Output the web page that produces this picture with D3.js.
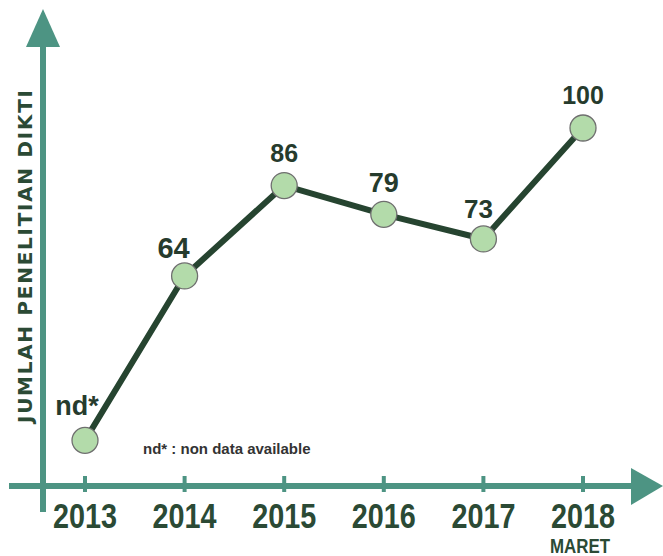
<!DOCTYPE html>
<html>
<head>
<meta charset="utf-8">
<script src="https://cdn.jsdelivr.net/npm/d3@7"></script>
<style>
  html, body { margin: 0; padding: 0; background: #fff; }
  svg { display: block; }
</style>
</head>
<body>
<figure id="line" style="margin:0"></figure>
<script>
// data
const years = ["2013", "2014", "2015", "2016", "2017", "2018"];
const yearNotes = ["", "", "", "", "", "MARET"];
// 2013 has no data (nd*), its marker sits low on the chart
const values = [24, 64, 86, 79, 73, 100];
const valueLabels = ["nd*", "64", "86", "79", "73", "100"];
const yTitle = "JUMLAH PENELITIAN DIKTI";
const footNote = "nd* : non data available";

// label nudges / sizes (style only)
const labelDx = [-8, -11, 0, 0, -5, 0];
const labelDy = [-25, -18, -24, -22, -21, -24];
const labelSize = [27, 29, 25, 27, 26, 25];

const width = 663;
const height = 556;
const axisColor = "#4d9483";
const lineColor = "#264430";
const textColor = "#263b2d";
const yearColor = "#2b4a35";
const narrow = "'Liberation Sans Narrow', 'Arial Narrow', 'Liberation Sans', sans-serif";

const svg = d3.select("figure#line")
  .append("svg")
  .attr("width", width)
  .attr("height", height);

svg.append("rect").attr("width", width).attr("height", height).attr("fill", "#fff");

// scales
const x = d3.scalePoint()
  .domain(years)
  .range([85, 583]);

const y = d3.scaleLinear()
  .domain([0, 100])
  .range([539, 128]);

const axisY = 486;
const axisX = 43;

// y axis with arrow
svg.append("line")
  .attr("x1", axisX).attr("x2", axisX)
  .attr("y1", 512).attr("y2", 44)
  .attr("stroke", axisColor).attr("stroke-width", 6);
svg.append("path")
  .attr("d", d3.line()([[axisX, 9], [axisX - 17, 47], [axisX + 17, 47]]) + "Z")
  .attr("fill", axisColor);

// x axis with arrow
svg.append("line")
  .attr("x1", 9).attr("x2", 633)
  .attr("y1", axisY).attr("y2", axisY)
  .attr("stroke", axisColor).attr("stroke-width", 6);
svg.append("path")
  .attr("d", d3.line()([[663, axisY], [631, axisY - 18], [631, axisY + 19]]) + "Z")
  .attr("fill", axisColor);

// ticks
svg.selectAll("line.tick")
  .data(years)
  .enter()
  .append("line")
  .attr("class", "tick")
  .attr("x1", d => x(d)).attr("x2", d => x(d))
  .attr("y1", axisY - 10).attr("y2", axisY + 6)
  .attr("stroke", axisColor).attr("stroke-width", 4);

// year labels (narrow look squeezed via textLength)
svg.selectAll("text.year")
  .data(years)
  .enter()
  .append("text")
  .attr("class", "year")
  .attr("x", d => x(d))
  .attr("y", 528)
  .attr("text-anchor", "middle")
  .attr("textLength", 64)
  .attr("lengthAdjust", "spacingAndGlyphs")
  .style("font-family", narrow)
  .style("font-weight", "bold")
  .style("font-size", "35px")
  .style("fill", yearColor)
  .text(d => d);

svg.selectAll("text.yearnote")
  .data(years.filter((d, i) => yearNotes[i]))
  .enter()
  .append("text")
  .attr("class", "yearnote")
  .attr("x", d => x(d) - 3)
  .attr("y", 553)
  .attr("text-anchor", "middle")
  .attr("textLength", 60)
  .attr("lengthAdjust", "spacingAndGlyphs")
  .style("font-family", narrow)
  .style("font-weight", "bold")
  .style("font-size", "20.5px")
  .style("fill", yearColor)
  .text(d => yearNotes[years.indexOf(d)]);

// y title
svg.append("text")
  .attr("transform", "translate(32," + 256.5 + ")rotate(-90)")
  .attr("text-anchor", "middle")
  .attr("textLength", 333)
  .attr("lengthAdjust", "spacing")
  .style("font-family", "'DejaVu Sans', sans-serif")
  .style("font-weight", "bold")
  .style("font-size", "20px")
  .style("fill", yearColor)
  .text(yTitle);

// the line
const pts = years.map((d, i) => [x(d), y(values[i])]);
svg.append("path")
  .attr("d", d3.line()(pts))
  .attr("fill", "none")
  .attr("stroke", lineColor)
  .attr("stroke-width", 6)
  .attr("stroke-linejoin", "round");

// markers
svg.selectAll("circle.pt")
  .data(values)
  .enter()
  .append("circle")
  .attr("class", "pt")
  .attr("cx", (d, i) => x(years[i]))
  .attr("cy", d => y(d))
  .attr("r", 13)
  .attr("fill", "#b3dbaa")
  .attr("stroke", "#6f6f6f")
  .attr("stroke-width", 1.3);

// value labels
svg.selectAll("text.val")
  .data(valueLabels)
  .enter()
  .append("text")
  .attr("class", "val")
  .attr("x", (d, i) => x(years[i]) + labelDx[i])
  .attr("y", (d, i) => y(values[i]) + labelDy[i])
  .attr("text-anchor", "middle")
  .style("font-family", "'Liberation Sans', Arial, sans-serif")
  .style("font-weight", "bold")
  .style("font-size", (d, i) => labelSize[i] + "px")
  .style("fill", textColor)
  .text(d => d);

// foot note
svg.append("text")
  .attr("x", 143)
  .attr("y", 454)
  .style("font-family", "'Liberation Sans', Arial, sans-serif")
  .style("font-weight", "bold")
  .style("font-size", "15px")
  .style("fill", "#333")
  .text(footNote);
</script>
</body>
</html>
